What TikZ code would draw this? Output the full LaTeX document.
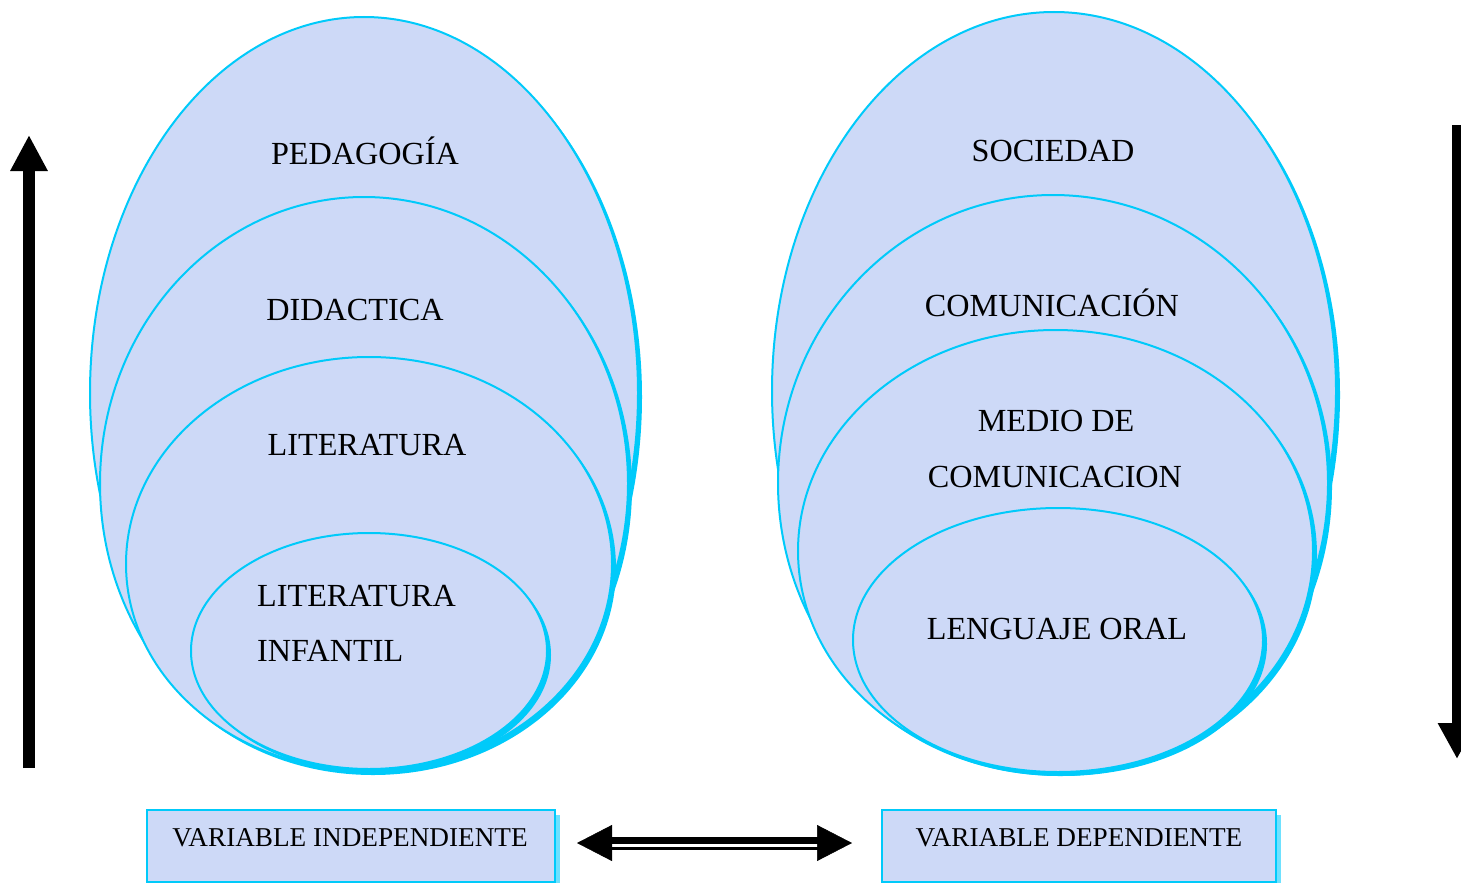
\documentclass[tikz,border=0pt]{standalone}
\usepackage{fontspec}
\setmainfont{Liberation Serif}
\usetikzlibrary{arrows.meta,shadows}
\definecolor{cyanb}{RGB}{0,202,250}
\definecolor{fillc}{RGB}{205,217,247}
\definecolor{boxsh}{RGB}{110,225,255}
\newcommand\shellipse[4]{%
  \fill[cyanb] (#1+4,#2+4) ellipse [x radius=#3, y radius=#4];
  \draw[ell] (#1,#2) ellipse [x radius=#3, y radius=#4];}
\begin{document}
\begin{tikzpicture}[x=1pt,y=-1pt,
  ell/.style={draw=cyanb, line width=2pt, fill=fillc},
  lbl/.style={font=\fontsize{32.2}{38}\selectfont, anchor=base, inner sep=0pt},
  lblw/.style={lbl, anchor=base west},
  vbox/.style={draw=cyanb, line width=2pt, fill=fillc, inner sep=0pt,
    minimum height=72pt,
    drop shadow={shadow xshift=5pt, shadow yshift=-5pt, fill=boxsh, opacity=1}},
  blbl/.style={font=\fontsize{27.2}{30}\selectfont, anchor=base, inner sep=0pt}]
\useasboundingbox (0,0) rectangle (1461,883);

% left ellipses
\shellipse{364}{393}{274}{376}
\shellipse{364}{483.5}{264}{286.5}
\shellipse{369}{564}{243}{207}
\shellipse{369}{651}{178}{118}

% right ellipses
\shellipse{1054}{391}{282}{379}
\shellipse{1053}{483}{275}{288}
\shellipse{1055.5}{551}{257.5}{221}
\shellipse{1058}{640}{205}{132}

% left labels
\node[lbl] (ped) at (365,164) {PEDAGOGÍA};
\node[lbl] (did) at (355,320) {DIDACTICA};
\node[lbl] (lit) at (367,455) {LITERATURA};
\node[lblw] (lit2) at (257,606) {LITERATURA};
\node[lblw] (inf) at (257,661) {INFANTIL};

% right labels
\node[lbl] (soc) at (1053,161) {SOCIEDAD};
\node[lbl] (com) at (1052,316) {COMUNICACIÓN};
\node[lbl] (med) at (1056,431) {MEDIO DE};
\node[lbl] (med2) at (1055,487) {COMUNICACION};
\node[lbl] (len) at (1057,639) {LENGUAJE ORAL};

% boxes
\node[vbox, minimum width=408pt] (vi) at (351,846) {};
\node[blbl] (vit) at (350,846) {VARIABLE INDEPENDIENTE};
\node[vbox, minimum width=394pt] (vd) at (1079,846) {};
\node[blbl] (vdt) at (1079,846) {VARIABLE DEPENDIENTE};

% vertical arrows
\coordinate (upS) at (29,768);
\coordinate (upE) at (29,135);
\draw[line width=12pt, -{Triangle[width=35pt,length=36pt]}] (upS) -- (upE);
\coordinate (dnS) at (1457,125);
\coordinate (dnE) at (1457,759);
\draw[line width=11pt, -{Triangle[width=36pt,length=36pt]}] (dnS) -- (dnE);

% double arrow
\coordinate (bl) at (577,843);
\coordinate (br) at (852,843);
\draw[line width=0.5pt, {Triangle[width=36pt,length=35pt]}-{Triangle[width=36pt,length=35pt]}] (bl) -- (br);
\draw[line width=7pt] ([xshift=33pt,yshift=2.5pt]bl) -- ([xshift=-33pt,yshift=2.5pt]br);
\draw[line width=3pt] ([xshift=33pt,yshift=-5pt]bl) -- ([xshift=-33pt,yshift=-5pt]br);
\end{tikzpicture}
\end{document}
